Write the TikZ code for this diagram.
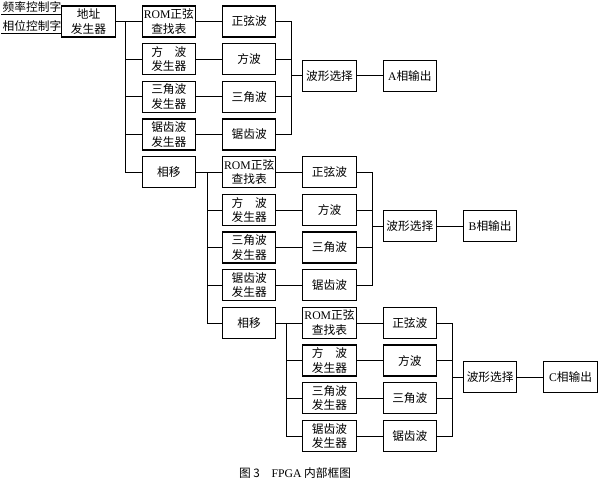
\documentclass[tikz,border=0pt]{standalone}
\usepackage{fontspec}
\setmainfont{Liberation Serif}
\newfontfamily\cjk{Noto Sans CJK SC}
\usetikzlibrary{positioning,calc}

\begin{document}
\begin{tikzpicture}[
        node distance=0.165cm and 0.775cm,
        every node/.style={align=center, font=\cjk\fontsize{10}{12.5}\selectfont},
        blk/.style={rectangle, draw, line width=1pt, minimum width=1.6cm, minimum height=0.93cm, inner sep=1pt},
        inlbl/.style={inner sep=1pt, anchor=south west},
        wire/.style={line width=0.6pt}
    ]
    \useasboundingbox (0,0) rectangle (18,-14.4);

    % Inputs and address generator
    \node[blk] (addr) at (2.655,-0.645) {地址\\发生器};
    \coordinate (fin) at (0.04,-0.43);
    \coordinate (pin) at (0.04,-0.99);
    \node[inlbl] (fword) at (fin) {频率控制字};
    \node[inlbl] (pword) at (pin) {相位控制字};

    % Channel A
    \node[blk, right=of addr] (romA) {{\rmfamily ROM}正弦\\查找表};
    \node[blk, below=of romA] (sqgA) {方\quad 波\\发生器};
    \node[blk, below=of sqgA] (trgA) {三角波\\发生器};
    \node[blk, below=of trgA] (sawgA) {锯齿波\\发生器};
    \node[blk, below=of sawgA] (shiftA) {相移};
    \node[blk, right=of romA] (sinA) {正弦波};
    \node[blk, right=of sqgA] (sqA) {方波};
    \node[blk, right=of trgA] (trA) {三角波};
    \node[blk, right=of sawgA] (sawA) {锯齿波};
    \coordinate (midA) at ($(sqA.east)!0.5!(trA.east)$);
    \node[blk, right=of midA, yshift=0.07cm] (wfA) {波形选择};
    \node[blk, right=of wfA] (outA) {{\rmfamily A}相输出};

    % Channel B
    \node[blk, right=of shiftA] (romB) {{\rmfamily ROM}正弦\\查找表};
    \node[blk, below=of romB] (sqgB) {方\quad 波\\发生器};
    \node[blk, below=of sqgB] (trgB) {三角波\\发生器};
    \node[blk, below=of trgB] (sawgB) {锯齿波\\发生器};
    \node[blk, below=of sawgB] (shiftB) {相移};
    \node[blk, right=of romB] (sinB) {正弦波};
    \node[blk, right=of sqgB] (sqB) {方波};
    \node[blk, right=of trgB] (trB) {三角波};
    \node[blk, right=of sawgB] (sawB) {锯齿波};
    \coordinate (midB) at ($(sqB.east)!0.5!(trB.east)$);
    \node[blk, right=of midB, yshift=0.07cm] (wfB) {波形选择};
    \node[blk, right=of wfB] (outB) {{\rmfamily B}相输出};

    % Channel C
    \node[blk, right=of shiftB] (romC) {{\rmfamily ROM}正弦\\查找表};
    \node[blk, below=of romC] (sqgC) {方\quad 波\\发生器};
    \node[blk, below=of sqgC] (trgC) {三角波\\发生器};
    \node[blk, below=of trgC] (sawgC) {锯齿波\\发生器};
    \node[blk, right=of romC] (sinC) {正弦波};
    \node[blk, right=of sqgC] (sqC) {方波};
    \node[blk, right=of trgC] (trC) {三角波};
    \node[blk, right=of sawgC] (sawC) {锯齿波};
    \coordinate (midC) at ($(sqC.east)!0.5!(trC.east)$);
    \node[blk, right=of midC, yshift=0.07cm] (wfC) {波形选择};
    \node[blk, right=of wfC] (outC) {{\rmfamily C}相输出};

    % Caption
    \node (cap) at (8.85,-14.2) {图 3\quad {\rmfamily FPGA} 内部框图};

    % Input lines
    \draw[wire] (fin) -- (fin -| addr.west);
    \draw[wire] (pin) -- (pin -| addr.west);

    % Buses
    \coordinate[right=0.3cm of addr.east] (busA);
    \coordinate[right=0.33cm of shiftA.east] (busB);
    \coordinate[right=0.3cm of shiftB.east] (busC);
    \draw[wire] (addr) -- (romA);
    \draw[wire] (busA) |- (shiftA);
    \draw[wire] (busA |- sqgA) -- (sqgA);
    \draw[wire] (busA |- trgA) -- (trgA);
    \draw[wire] (busA |- sawgA) -- (sawgA);
    \draw[wire] (shiftA) -- (romB);
    \draw[wire] (busB) |- (shiftB);
    \draw[wire] (busB |- sqgB) -- (sqgB);
    \draw[wire] (busB |- trgB) -- (trgB);
    \draw[wire] (busB |- sawgB) -- (sawgB);
    \draw[wire] (shiftB) -- (romC);
    \draw[wire] (busC) |- (sawgC);
    \draw[wire] (busC |- sqgC) -- (sqgC);
    \draw[wire] (busC |- trgC) -- (trgC);

    % Generators to waves
    \draw[wire] (romA) -- (sinA);
    \draw[wire] (sqgA) -- (sqA);
    \draw[wire] (trgA) -- (trA);
    \draw[wire] (sawgA) -- (sawA);
    \draw[wire] (romB) -- (sinB);
    \draw[wire] (sqgB) -- (sqB);
    \draw[wire] (trgB) -- (trB);
    \draw[wire] (sawgB) -- (sawB);
    \draw[wire] (romC) -- (sinC);
    \draw[wire] (sqgC) -- (sqC);
    \draw[wire] (trgC) -- (trC);
    \draw[wire] (sawgC) -- (sawC);

    % Waves to selection
    \coordinate[right=0.45cm of sinA.east] (mrgA);
    \coordinate[right=0.48cm of sinB.east] (mrgB);
    \coordinate[right=0.45cm of sinC.east] (mrgC);
    \draw[wire] (sinA) -| (mrgA |- sawA) -- (sawA);
    \draw[wire] (sqA) -- (sqA -| mrgA);
    \draw[wire] (trA) -- (trA -| mrgA);
    \draw[wire] (wfA) -- (wfA -| mrgA);
    \draw[wire] (sinB) -| (mrgB |- sawB) -- (sawB);
    \draw[wire] (sqB) -- (sqB -| mrgB);
    \draw[wire] (trB) -- (trB -| mrgB);
    \draw[wire] (wfB) -- (wfB -| mrgB);
    \draw[wire] (sinC) -| (mrgC |- sawC) -- (sawC);
    \draw[wire] (sqC) -- (sqC -| mrgC);
    \draw[wire] (trC) -- (trC -| mrgC);
    \draw[wire] (wfC) -- (wfC -| mrgC);

    % Outputs
    \draw[wire] (wfA) -- (outA);
    \draw[wire] (wfB) -- (outB);
    \draw[wire] (wfC) -- (outC);

\end{tikzpicture}
\end{document}
